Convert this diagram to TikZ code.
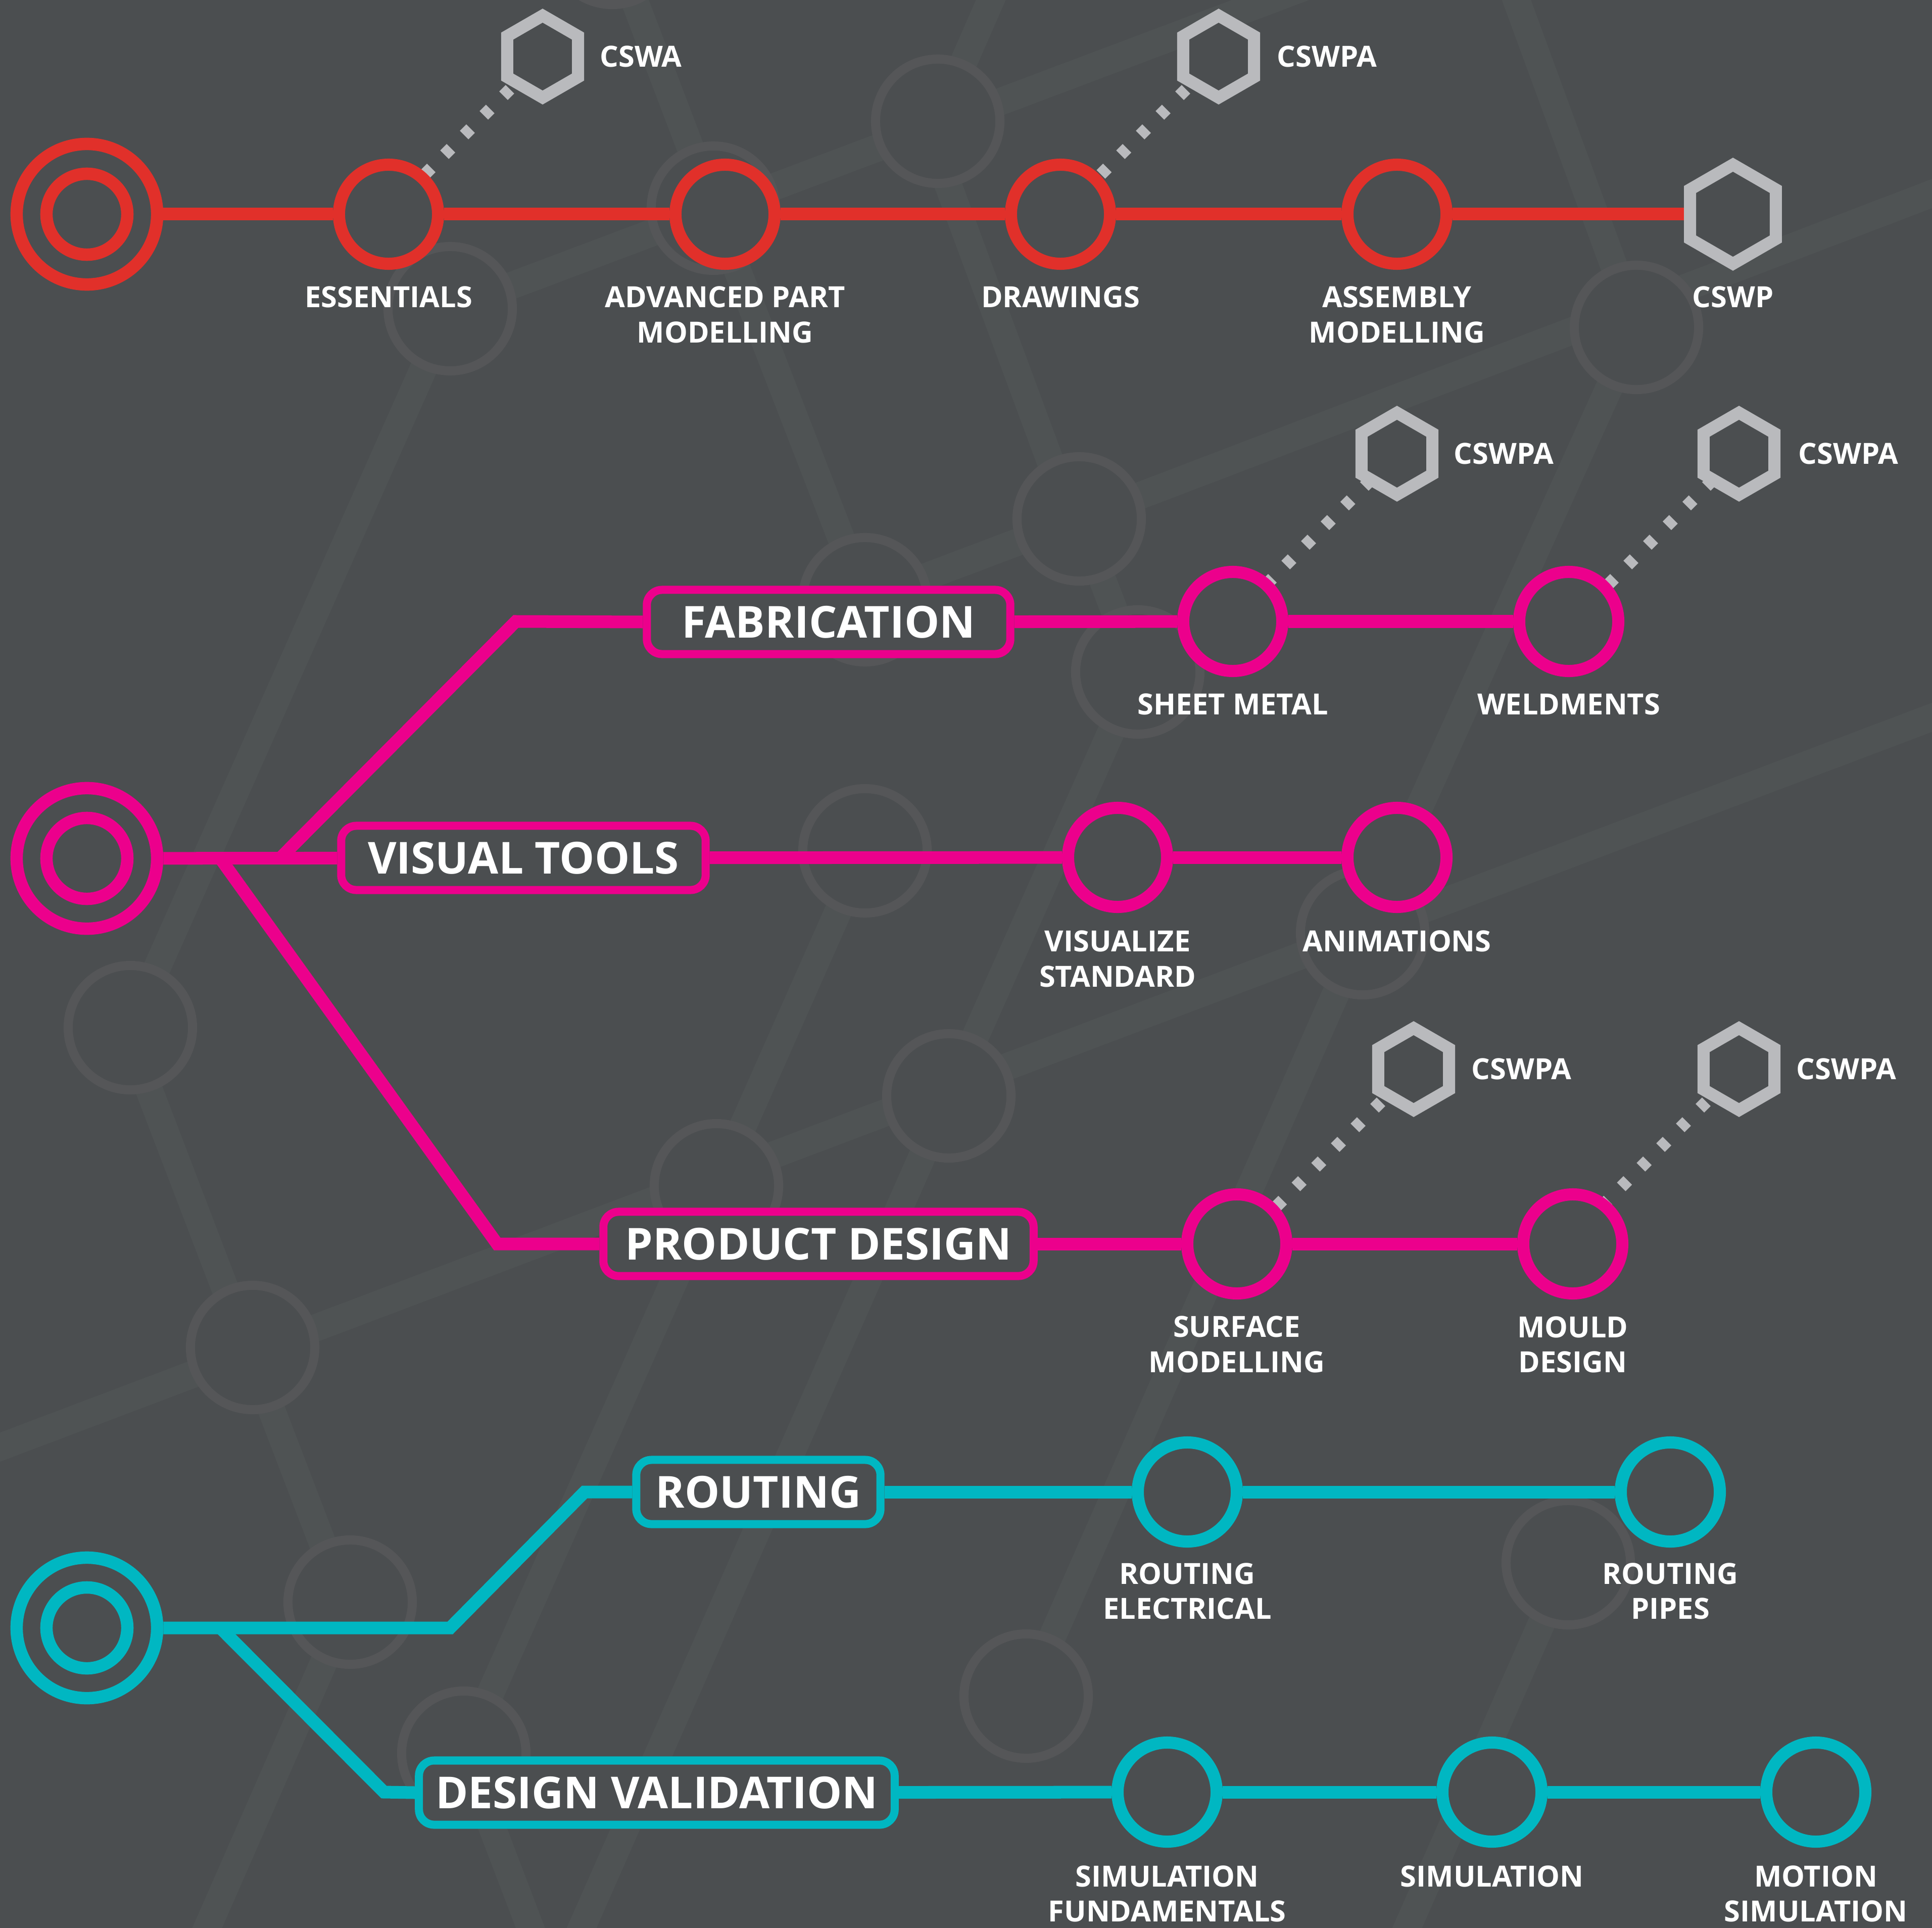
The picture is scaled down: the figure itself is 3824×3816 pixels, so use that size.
\documentclass[tikz,border=0pt]{standalone}
\usepackage{fontspec}
\setmainfont{Open Sans}
\usetikzlibrary{shapes.geometric}
\definecolor{bgdark}{HTML}{4B4E50}
\definecolor{ghostline}{HTML}{4F5354}
\definecolor{ghostring}{HTML}{555658}
\definecolor{tubered}{HTML}{E1302A}
\definecolor{tubepink}{HTML}{EC008C}
\definecolor{tubecyan}{HTML}{00B7C2}
\definecolor{hexgray}{HTML}{B9BABD}
\pgfdeclarelayer{ghostback}
\pgfdeclarelayer{ghostfront}
\pgfdeclarelayer{links}
\pgfsetlayers{ghostback,ghostfront,links,main}
\tikzset{
    ghostedge/.style={draw=ghostline, line width=0.54cm},
    ghostnode/.style={circle, draw=ghostring, fill=bgdark, line width=0.18cm, minimum size=2.46cm, inner sep=0pt},
    metro/.style={draw=#1, line width=0.25cm},
    dotline/.style={draw=hexgray, line width=0.24cm, dash pattern=on 0.18cm off 0.37cm},
    outerstart/.style={circle, draw=#1, fill=bgdark, line width=0.245cm, minimum size=2.78cm, inner sep=0pt},
    innerstart/.style={circle, draw=#1, fill=bgdark, line width=0.245cm, minimum size=1.6cm, inner sep=0pt},
    station/.style={circle, draw=#1, fill=bgdark, line width=0.24cm, minimum size=1.96cm, inner sep=0pt},
    certhex/.style={regular polygon, regular polygon sides=6, shape border rotate=30, draw=hexgray, fill=bgdark, line width=0.24cm, minimum size=1.62cm, inner sep=0pt},
    bighex/.style={certhex, minimum size=1.96cm},
    linebox/.style={rectangle, rounded corners=0.3cm, draw=#1, fill=bgdark, line width=0.16cm, minimum height=1.27cm, inner sep=0pt, text=white, font=\bfseries\fontsize{24.8}{30}\selectfont},
    stoplabel/.style={text=white, align=center, inner sep=0pt, font=\bfseries\fontsize{16.4}{19.7}\selectfont},
    certlabel/.style={stoplabel, anchor=west},
}
\begin{document}
\begin{tikzpicture}[x=0.01cm, y=-0.01cm]
        % Umgebung
        \useasboundingbox (0,0) rectangle (3824,3816);
        \begin{pgfonlayer}{ghostback}
        \fill[bgdark] (0,0) rectangle (3824,3816);
        \end{pgfonlayer}
        
        % Netz im Hintergrund
        \begin{pgfonlayer}{ghostfront}
        \node[ghostnode] (ga) at (1212,-114) {};
        \node[ghostnode] (gb) at (891,611) {};
        \node[ghostnode] (gc) at (1412,412) {};
        \node[ghostnode] (gd) at (1856,240) {};
        \node[ghostnode] (ge) at (1712,1187) {};
        \node[ghostnode] (gf) at (1712,1684) {};
        \node[ghostnode] (gg) at (2136,1027) {};
        \node[ghostnode] (gh) at (2252,1330) {};
        \node[ghostnode] (gi) at (3239,648) {};
        \node[ghostnode] (gj) at (2697,1846) {};
        \node[ghostnode] (gk) at (258,2034) {};
        \node[ghostnode] (gl) at (500,2667) {};
        \node[ghostnode] (gm) at (693,3171) {};
        \node[ghostnode] (gn) at (918,3470) {};
        \node[ghostnode] (go) at (1418,2347) {};
        \node[ghostnode] (gp) at (1878,2169) {};
        \node[ghostnode] (gq) at (2031,3357) {};
        \node[ghostnode] (gr) at (3104,3093) {};
        \end{pgfonlayer}
        
        \begin{pgfonlayer}{ghostback}
        \coordinate (gAend) at (2645,-49);
        \coordinate (gBend) at (3924,345);
        \coordinate (gCleft) at (-100,2902);
        \coordinate (gCright) at (3924,1382);
        \coordinate (gDtop) at (1983,-50);
        \coordinate (gEtop) at (2983,-50);
        \coordinate (gFbot) at (1129,3866);
        \coordinate (gGbot) at (388,3866);
        \coordinate (gHbot) at (2763,3866);
        \coordinate (gIbot) at (1069,3866);
        \draw[ghostedge] (gb.center) -- (gAend);
        \draw[ghostedge] (ge.center) -- (gg.center) -- (gBend);
        \draw[ghostedge] (gCleft) -- (gCright);
        \draw[ghostedge] (gb.center) -- (gk.center);
        \draw[ghostedge] (gi.center) -- (gj.center) -- (gq.center);
        \draw[ghostedge] (gh.center) -- (gp.center) -- (gFbot);
        \draw[ghostedge] (gf.center) -- (go.center) -- (gn.center);
        \draw[ghostedge] (gm.center) -- (gGbot);
        \draw[ghostedge] (gr.center) -- (gHbot);
        \draw[ghostedge] (gd.center) -- (gDtop);
        \draw[ghostedge] (ga.center) -- (gc.center) -- (ge.center);
        \draw[ghostedge] ([xshift=-0.26cm]gd.center) -- ([xshift=-0.15cm]gg.center);
        \draw[ghostedge] (gg.center) -- (gh.center);
        \draw[ghostedge] (gi.center) -- (gEtop);
        \draw[ghostedge] ([xshift=-0.1cm]gk.center) -- ([xshift=-0.1cm]gm.center);
        \draw[ghostedge] (gn.center) -- (gIbot);
        \end{pgfonlayer}
        
        % Rote Linie
        \node[outerstart=tubered] (redstart) at (172,424) {};
        \node[innerstart=tubered] (redcore) at (172,424) {};
        \node[station=tubered] (essentials) at (769,424) {};
        \node[station=tubered] (advpart) at (1435,424) {};
        \node[station=tubered] (drawings) at (2099,424) {};
        \node[station=tubered] (assembly) at (2765,424) {};
        \node[bighex] (cswp) at (3430,424) {};
        \node[certhex] (cswa) at (1074,112) {};
        \node[certhex] (cswpaone) at (2412,112) {};
        
        \node[stoplabel] at (769,588) {ESSENTIALS};
        \node[stoplabel] at (1435,623) {ADVANCED PART\\MODELLING};
        \node[stoplabel] at (2099,588) {DRAWINGS};
        \node[stoplabel] at (2765,623) {ASSEMBLY\\MODELLING};
        \node[stoplabel] at (3430,588) {CSWP};
        \node[certlabel] at (1187,112) {CSWA};
        \node[certlabel] at (2527,112) {CSWPA};
        
        % Magenta Linie
        \node[outerstart=tubepink] (pinkstart) at (172,1699) {};
        \node[innerstart=tubepink] (pinkcore) at (172,1699) {};
        \node[linebox=tubepink, minimum width=7.19cm] (fabrication) at (1640,1231) {FABRICATION};
        \node[linebox=tubepink, minimum width=7.21cm] (visual) at (1036,1698) {VISUAL TOOLS};
        \node[linebox=tubepink, minimum width=8.51cm] (product) at (1620,2462) {PRODUCT DESIGN};
        \node[station=tubepink] (sheet) at (2440,1230) {};
        \node[station=tubepink] (weld) at (3105,1230) {};
        \node[station=tubepink] (visualize) at (2212,1697) {};
        \node[station=tubepink] (animations) at (2765,1697) {};
        \node[station=tubepink] (surface) at (2448,2462) {};
        \node[station=tubepink] (mould) at (3113,2462) {};
        \node[certhex] (cswpatwo) at (2765,898) {};
        \node[certhex] (cswpathree) at (3442,898) {};
        \node[certhex] (cswpafour) at (2798,2116) {};
        \node[certhex] (cswpafive) at (3442,2116) {};
        
        \node[stoplabel] at (2440,1394) {SHEET METAL};
        \node[stoplabel] at (3105,1394) {WELDMENTS};
        \node[stoplabel] at (2212,1898) {VISUALIZE\\STANDARD};
        \node[stoplabel] at (2765,1863) {ANIMATIONS};
        \node[stoplabel] at (2448,2661) {SURFACE\\MODELLING};
        \node[stoplabel] at (3113,2661) {MOULD\\DESIGN};
        \node[certlabel] at (2877,898) {CSWPA};
        \node[certlabel] at (3559,898) {CSWPA};
        \node[certlabel] at (2912,2116) {CSWPA};
        \node[certlabel] at (3555,2116) {CSWPA};
        
        % Cyan Linie
        \node[outerstart=tubecyan] (cyanstart) at (172,3222) {};
        \node[innerstart=tubecyan] (cyancore) at (172,3222) {};
        \node[linebox=tubecyan, minimum width=4.83cm] (routing) at (1501,2953) {ROUTING};
        \node[linebox=tubecyan, minimum width=9.41cm] (validation) at (1300,3548) {DESIGN VALIDATION};
        \node[station=tubecyan] (relectrical) at (2350,2953) {};
        \node[station=tubecyan] (rpipes) at (3306,2953) {};
        \node[station=tubecyan] (simfund) at (2310,3547) {};
        \node[station=tubecyan] (simulation) at (2953,3547) {};
        \node[station=tubecyan] (motion) at (3594,3547) {};
        
        \node[stoplabel] at (2350,3149) {ROUTING\\ELECTRICAL};
        \node[stoplabel] at (3306,3149) {ROUTING\\PIPES};
        \node[stoplabel] at (2310,3748) {SIMULATION\\FUNDAMENTALS};
        \node[stoplabel] at (2953,3714) {SIMULATION};
        \node[stoplabel] at (3594,3748) {MOTION\\SIMULATION};
        
        % Verbindungen
        \begin{pgfonlayer}{links}
        \draw[metro=tubered] (redstart) -- (essentials);
        \draw[metro=tubered] (essentials) -- (advpart);
        \draw[metro=tubered] (advpart) -- (drawings);
        \draw[metro=tubered] (drawings) -- (assembly);
        \draw[metro=tubered] (assembly) -- (cswp);
        
        \coordinate (pinkup) at (554,1699);
        \coordinate (pinkupbend) at (1021,1230);
        \coordinate (pinkdown) at (436,1699);
        \coordinate (pinkdownbend) at (984,2462);
        \draw[metro=tubepink] (pinkstart) -- (visual);
        \draw[metro=tubepink] (pinkup) -- (pinkupbend) -- (fabrication.west);
        \draw[metro=tubepink] (pinkdown) -- (pinkdownbend) -- (product.west);
        \draw[metro=tubepink] (fabrication) -- (sheet);
        \draw[metro=tubepink] (sheet) -- (weld);
        \draw[metro=tubepink] (visual) -- (visualize);
        \draw[metro=tubepink] (visualize) -- (animations);
        \draw[metro=tubepink] (product) -- (surface);
        \draw[metro=tubepink] (surface) -- (mould);
        
        \coordinate (cyanbendlow) at (891,3222);
        \coordinate (cyanbendhigh) at (1157,2953);
        \coordinate (cyandown) at (436,3222);
        \coordinate (cyandownbend) at (760,3547);
        \draw[metro=tubecyan] (cyanstart.east) -- (cyanbendlow) -- (cyanbendhigh) -- (routing.west);
        \draw[metro=tubecyan] (cyandown) -- (cyandownbend) -- (validation.west);
        \draw[metro=tubecyan] (routing) -- (relectrical);
        \draw[metro=tubecyan] (relectrical) -- (rpipes);
        \draw[metro=tubecyan] (validation) -- (simfund);
        \draw[metro=tubecyan] (simfund) -- (simulation);
        \draw[metro=tubecyan] (simulation) -- (motion);
        
        % Punktierte Linien
        \coordinate (foota) at (829,357);
        \coordinate (footb) at (2167,357);
        \coordinate (footc) at (2495,1168);
        \coordinate (footd) at (3172,1168);
        \coordinate (foote) at (2513,2401);
        \coordinate (footf) at (3157,2401);
        \draw[dotline, dash phase=0.185cm] (cswa.center) -- (foota);
        \draw[dotline, dash phase=0.185cm] (cswpaone.center) -- (footb);
        \draw[dotline, dash phase=0.365cm] (cswpatwo.center) -- (footc);
        \draw[dotline, dash phase=0.365cm] (cswpathree.center) -- (footd);
        \draw[dotline, dash phase=0.185cm] (cswpafour.center) -- (foote);
        \draw[dotline, dash phase=0.185cm] (cswpafive.center) -- (footf);
        \end{pgfonlayer}
        
    \end{tikzpicture}
\end{document}
